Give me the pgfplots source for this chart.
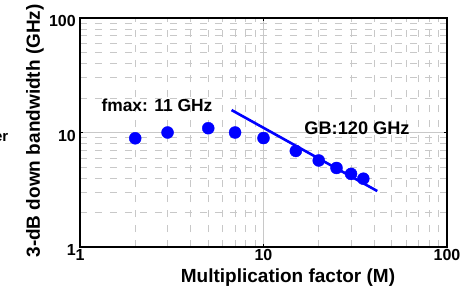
\documentclass[border=0pt]{standalone}
\usepackage{fontspec}
\setmainfont{Liberation Sans}
\usepackage{pgfplots}
\pgfplotsset{compat=1.18}
\definecolor{gridgray}{RGB}{200,200,200}
\definecolor{ptblue}{RGB}{0,0,255}
\begin{document}
\begin{tikzpicture}
\useasboundingbox (-80pt,-40pt) rectangle (392pt,247pt);
\begin{axis}[
  at={(0,0)}, anchor=south west,
  scale only axis, width=367pt, height=229pt,
  xmode=log, ymode=log,
  xmin=1, xmax=100, ymin=1, ymax=100,
  xtick={1,10,100}, xticklabels={1,10,100},
  ytick={1,10,100}, yticklabels={1,10,100},
  minor xtick={2,3,4,5,6,7,8,9,20,30,40,50,60,70,80,90},
  minor ytick={2,3,4,5,6,7,8,9,20,30,40,50,60,70,80,90},
  grid=both,
  major grid style={solid, gridgray, line width=0.8pt},
  minor grid style={gridgray, line width=0.8pt, dash pattern=on 7pt off 8pt},
  axis line style={black, line width=1.3pt},
  major tick length=3pt, minor tick length=0pt,
  tick style={black, line width=0.8pt},
  tick align=inside,
  xticklabel style={font=\fontsize{16}{18}\selectfont\bfseries, inner sep=1pt, yshift=-1pt},
  yticklabel style={font=\fontsize{16}{18}\selectfont\bfseries, inner sep=1pt, xshift=-3pt, yshift=-3pt},
  xlabel={Multiplication factor (M)},
  ylabel={3-dB down bandwidth (GHz)},
  every axis x label/.style={at={(axis description cs:0.5668,0)}, yshift=-35.5pt, anchor=base, font=\fontsize{19}{22}\selectfont\bfseries},
  every axis y label/.style={at={(axis description cs:-0.1226,0.507)}, rotate=90, anchor=center, font=\fontsize{19}{22}\selectfont\bfseries},
  clip=false,
]
\addplot[only marks, mark=*, mark size=6pt, color=ptblue, mark options={fill=ptblue, draw=ptblue}]
  coordinates {(2,8.9) (3,10) (5,10.9) (7,10) (10,8.95) (15,6.9) (20,5.7) (25,4.9) (30,4.35) (35,3.95)};
\addplot[ptblue, line width=2.6pt, no marks] coordinates {(6.7,15.7) (41.7,3.08)};
\end{axis}
\node[font=\fontsize{17.4}{20}\selectfont\bfseries, inner sep=0pt] at (77pt,142pt) {fmax: 11 GHz};
\node[font=\fontsize{18.2}{20}\selectfont\bfseries, inner sep=0pt] at (277pt,119pt) {GB:120 GHz};
\node[font=\fontsize{15}{17}\selectfont\bfseries, inner sep=0pt, anchor=east] at (-71.5pt,109pt) {er};
\end{tikzpicture}
\end{document}
